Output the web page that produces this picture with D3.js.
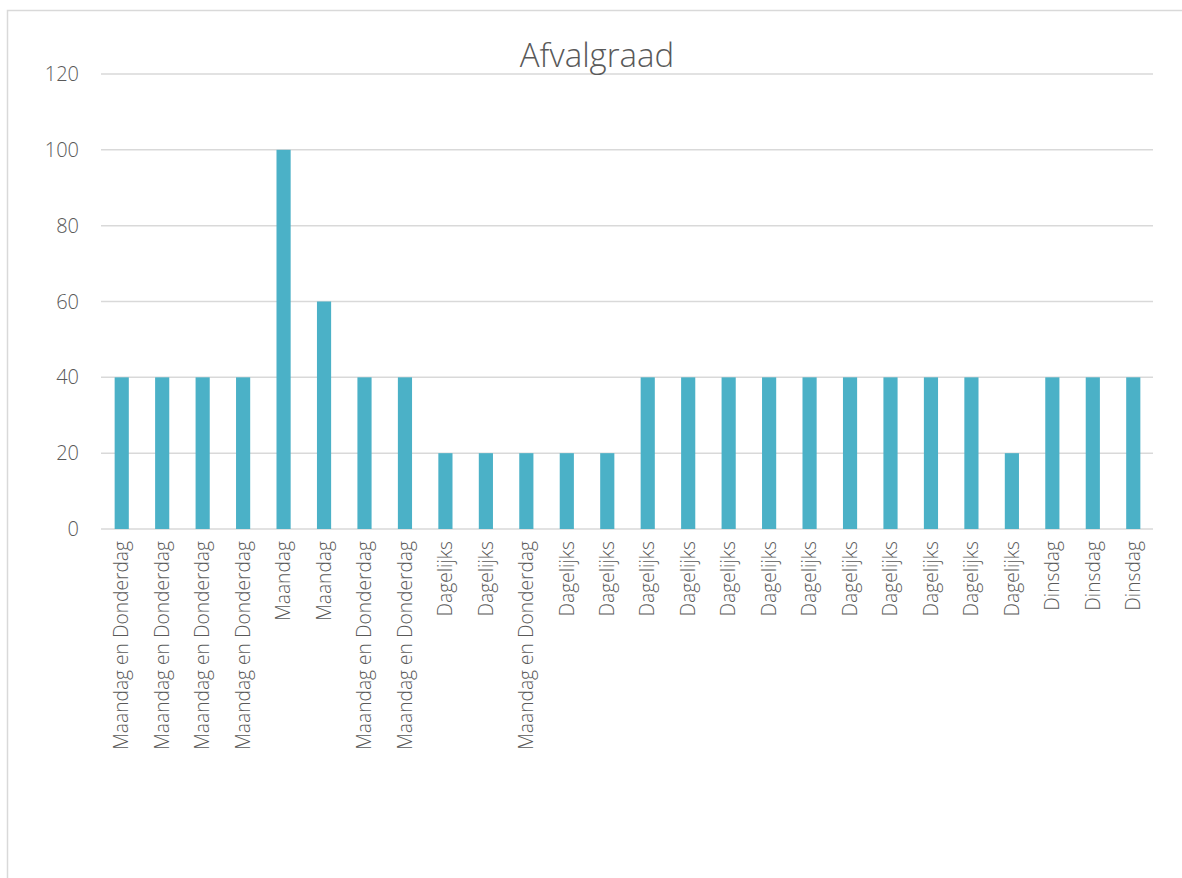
<!DOCTYPE html>
<html><head><meta charset="utf-8">
<script src="https://cdn.jsdelivr.net/npm/d3@7"></script>
<style>
body{margin:0;background:#fff;}
text{font-family:"Open Sans","Noto Sans",sans-serif;font-weight:300;fill:#595959;}
</style></head><body>
<svg id="c" width="1182" height="878"></svg>
<script>
const categories = ["Maandag en Donderdag","Maandag en Donderdag","Maandag en Donderdag","Maandag en Donderdag","Maandag","Maandag","Maandag en Donderdag","Maandag en Donderdag","Dagelijks","Dagelijks","Maandag en Donderdag","Dagelijks","Dagelijks","Dagelijks","Dagelijks","Dagelijks","Dagelijks","Dagelijks","Dagelijks","Dagelijks","Dagelijks","Dagelijks","Dagelijks","Dinsdag","Dinsdag","Dinsdag"];
const values = [40,40,40,40,100,60,40,40,20,20,20,20,20,40,40,40,40,40,40,40,40,40,20,40,40,40];
const yTicks = [0,20,40,60,80,100,120];
const title = "Afvalgraad";

(function(){
const svg = d3.select("#c");
svg.append("rect").attr("x",7.5).attr("y",10.5).attr("width",1200).attr("height",900)
  .attr("fill","none").attr("stroke","#d9d9d9").attr("stroke-width",1.5);

const pL=101, pR=1153, pT=74, pB=529;
const x = d3.scaleBand().domain(d3.range(categories.length)).range([pL,pR]).paddingInner(0.65).paddingOuter(0.325);
const y = d3.scaleLinear().domain([0,120]).range([pB,pT]);

svg.append("g").selectAll("line").data(yTicks).join("line")
  .attr("x1",pL).attr("x2",pR).attr("y1",d=>y(d)).attr("y2",d=>y(d))
  .attr("stroke","#d9d9d9").attr("stroke-width",1.5);

svg.append("g").selectAll("text").data(yTicks).join("text")
  .attr("x",79).attr("y",d=>y(d)).attr("dy","0.35em").attr("text-anchor","end")
  .style("font-size","20px").text(d=>d);

svg.append("g").selectAll("rect").data(values).join("rect")
  .attr("x",(d,i)=>x(i)+0.5).attr("width",x.bandwidth())
  .attr("y",d=>y(d)).attr("height",d=>pB-y(d)).attr("fill","#4bb1c7");

svg.append("g").selectAll("text").data(categories).join("text")
  .attr("transform",(d,i)=>`translate(${x(i)+x.bandwidth()/2+0.5},541) rotate(-90)`)
  .attr("text-anchor","end").attr("dy","0.35em")
  .style("font-size","19.2px").text(d=>d);

svg.append("text").attr("x",597).attr("y",67).attr("text-anchor","middle")
  .style("font-size","33px").text(title);
})();
</script></body></html>
